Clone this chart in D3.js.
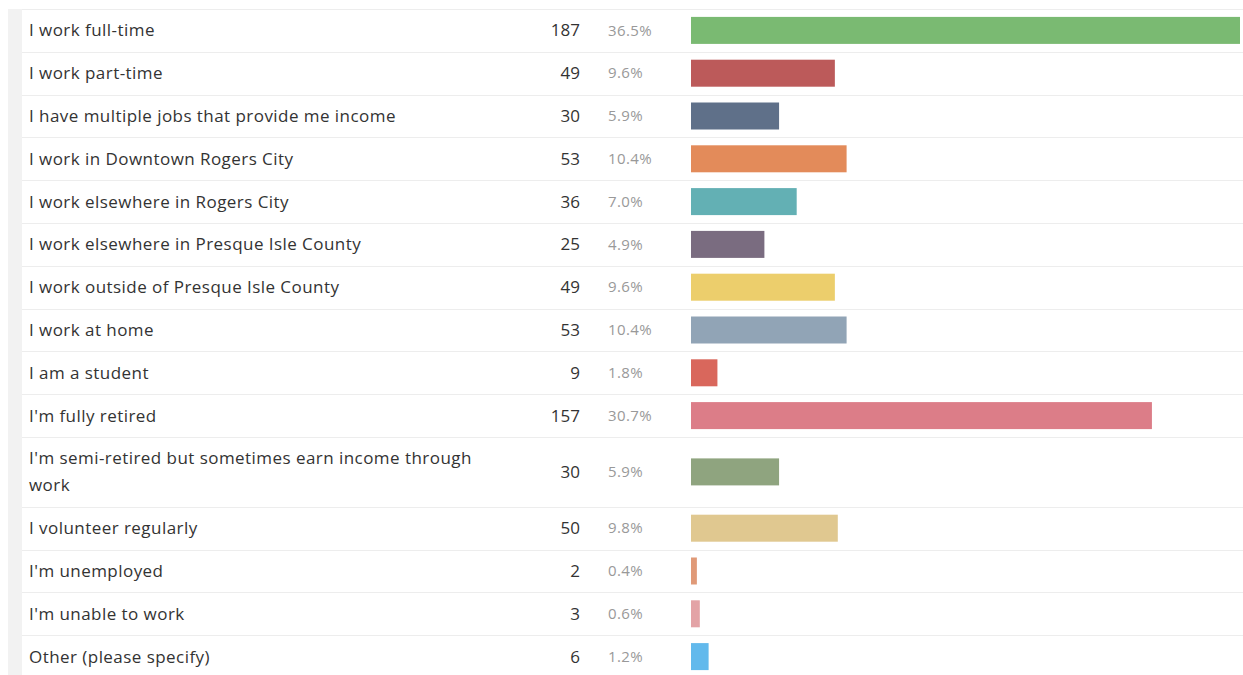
<!DOCTYPE html>
<html>
<head>
<meta charset="utf-8">
<script src="https://cdn.jsdelivr.net/npm/d3@7"></script>
<style>
  html, body { margin: 0; padding: 0; background: #fff; }
  svg { display: block; }
  text { font-family: "Open Sans", Lato, sans-serif; }
</style>
</head>
<body>
<svg id="chart" width="1243" height="675"></svg>
<script>
const categories = [
  "I work full-time",
  "I work part-time",
  "I have multiple jobs that provide me income",
  "I work in Downtown Rogers City",
  "I work elsewhere in Rogers City",
  "I work elsewhere in Presque Isle County",
  "I work outside of Presque Isle County",
  "I work at home",
  "I am a student",
  "I'm fully retired",
  "I'm semi-retired but sometimes earn income through work",
  "I volunteer regularly",
  "I'm unemployed",
  "I'm unable to work",
  "Other (please specify)"
];
const counts = [187, 49, 30, 53, 36, 25, 49, 53, 9, 157, 30, 50, 2, 3, 6];
const percents = ["36.5%", "9.6%", "5.9%", "10.4%", "7.0%", "4.9%", "9.6%", "10.4%", "1.8%", "30.7%", "5.9%", "9.8%", "0.4%", "0.6%", "1.2%"];
const colors = ["#7aba72", "#bc5a5a", "#5f7089", "#e38b5a", "#63b0b4", "#7a6c80", "#ecce6c", "#91a4b6", "#d9675c", "#dc7d88", "#8fa47f", "#e0c890", "#e09a78", "#e3a3a6", "#62b9ec"];

const svg = d3.select("#chart");
const top0 = 9;
const rowH = 42.8;
const lineH = 27;
const labelX = 29;
const labelMaxW = 485;
const countX = 580;
const pctX = 608;
const barX0 = 691;
const barH = 27;
const labelSize = 17;
const labelSpacing = 0.45;

const x = d3.scaleLinear().domain([0, d3.max(counts)]).range([barX0, 1240]);

// left gray strip
svg.append("rect").attr("x", 8).attr("y", top0).attr("width", 14).attr("height", 675 - top0).attr("fill", "#f2f2f2");

// measure + wrap labels
const measurer = svg.append("text").attr("font-size", labelSize).attr("letter-spacing", labelSpacing).attr("visibility", "hidden");
function wrap(str) {
  const words = str.split(" ");
  const lines = [];
  let cur = "";
  words.forEach(w => {
    const test = cur ? cur + " " + w : w;
    measurer.text(test);
    if (measurer.node().getComputedTextLength() > labelMaxW && cur) {
      lines.push(cur); cur = w;
    } else cur = test;
  });
  lines.push(cur);
  return lines;
}
const rows = categories.map((c, i) => ({ label: c, lines: wrap(c), count: counts[i], pct: percents[i], color: colors[i] }));
measurer.remove();

let y = top0;
rows.forEach(r => {
  r.y0 = y;
  r.h = rowH + (r.lines.length - 1) * lineH;
  r.cy = y + r.h / 2;
  y += r.h;
});

// separators
svg.append("g").selectAll("line").data([top0].concat(rows.map(r => r.y0 + r.h)))
  .join("line")
  .attr("x1", 22).attr("x2", 1243)
  .attr("y1", d => Math.round(d) + 0.5).attr("y2", d => Math.round(d) + 0.5)
  .attr("stroke", "#ededed").attr("stroke-width", 1);

const g = svg.append("g").selectAll("g").data(rows).join("g");

g.append("text")
  .attr("x", labelX)
  .attr("font-size", labelSize)
  .attr("letter-spacing", labelSpacing)
  .attr("fill", "#333")
  .each(function (d) {
    const t = d3.select(this);
    const n = d.lines.length;
    d.lines.forEach((ln, k) => {
      t.append("tspan").attr("x", labelX)
        .attr("y", d.cy + (k - (n - 1) / 2) * lineH)
        .attr("dy", "0.35em")
        .text(ln);
    });
  });

g.append("text")
  .attr("x", countX).attr("y", d => d.cy).attr("dy", "0.35em")
  .attr("text-anchor", "end")
  .attr("font-size", 17).attr("fill", "#333")
  .text(d => d.count);

g.append("text")
  .attr("x", pctX).attr("y", d => d.cy).attr("dy", "0.35em")
  .attr("font-size", 15).attr("letter-spacing", 0.4).attr("fill", "#999")
  .text(d => d.pct);

g.append("rect")
  .attr("x", x(0))
  .attr("y", d => d.cy - barH / 2)
  .attr("width", d => x(d.count) - x(0))
  .attr("height", barH)
  .attr("fill", d => d.color);
</script>
</body>
</html>
